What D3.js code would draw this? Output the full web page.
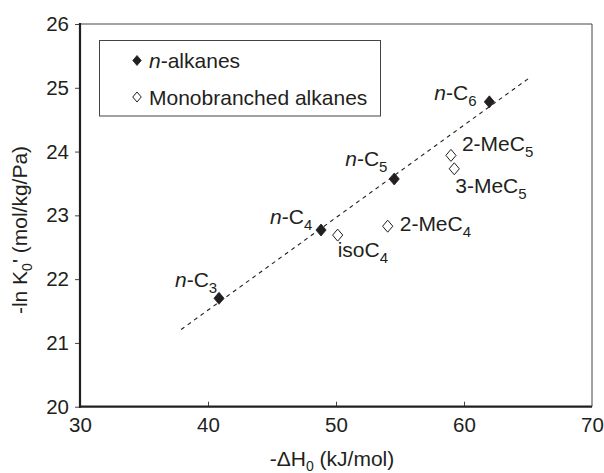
<!DOCTYPE html>
<html><head><meta charset="utf-8">
<script src="https://cdn.jsdelivr.net/npm/d3@7"></script>
<style>
html,body{margin:0;padding:0;background:#fff;}
text{font-family:"Liberation Sans",Arial,sans-serif;fill:#231f20;}
</style></head>
<body><svg id="c" width="604" height="473"></svg>
<script>
// Data
const nAlkaneNames = ["n-C3","n-C4","n-C5","n-C6"];
const nAlkaneDH = [40.86, 48.83, 54.55, 61.98];
const nAlkaneLnK = [21.70, 22.77, 23.57, 24.78];
const branchedNames = ["isoC4","2-MeC4","2-MeC5","3-MeC5"];
const branchedDH = [50.13, 54.04, 58.98, 59.24];
const branchedLnK = [22.69, 22.83, 23.94, 23.73];
const fitLineX = [37.9, 65.0];
const fitLineY = [21.21, 25.14];
const xTicks = [30, 40, 50, 60, 70];
const yTicks = [20, 21, 22, 23, 24, 25, 26];

// label placement (style)
const labelOffsets = {
  "n-C3":[-44,-11], "n-C4":[-51,-6], "n-C5":[-49,-13], "n-C6":[-55,-2],
  "isoC4":[0,22], "2-MeC4":[12,5], "2-MeC5":[11,-4], "3-MeC5":[1,24]
};

const svg = d3.select("#c");
const L=80, R=592, T=24, B=406.7;
const x = d3.scaleLinear().domain([30,70]).range([L,R]);
const y = d3.scaleLinear().domain([20,26]).range([B,T]);

// frame top/right
svg.append("line").attr("x1",L).attr("x2",R).attr("y1",T).attr("y2",T).attr("stroke","#444").attr("stroke-width",1);
svg.append("line").attr("x1",R).attr("x2",R).attr("y1",T).attr("y2",B).attr("stroke","#444").attr("stroke-width",1);

// y axis
const yAxis = svg.append("g").attr("transform",`translate(${L},0)`)
  .call(d3.axisLeft(y).tickValues(yTicks).tickSize(5).tickPadding(6).tickFormat(d3.format("d")));
yAxis.select(".domain").remove();
yAxis.selectAll(".tick line").attr("stroke","#444");
yAxis.selectAll("text").attr("font-size",20.5).style("fill","#231f20");
// x axis (ticks inward)
const xAxis = svg.append("g").attr("transform",`translate(0,${B})`)
  .call(d3.axisBottom(x).tickValues(xTicks).tickSizeInner(-5).tickSizeOuter(0).tickPadding(11).tickFormat(d3.format("d")));
xAxis.select(".domain").remove();
xAxis.selectAll(".tick line").attr("stroke","#444");
xAxis.selectAll(".tick").filter(d=>d===30||d===70).select("line").remove();
xAxis.selectAll("text").attr("font-size",20.5).style("fill","#231f20");

// thick left & bottom
svg.append("line").attr("x1",L).attr("x2",L).attr("y1",T-1).attr("y2",B+1).attr("stroke","#231f20").attr("stroke-width",2.2);
svg.append("line").attr("x1",L-1).attr("x2",R).attr("y1",B).attr("y2",B).attr("stroke","#231f20").attr("stroke-width",2.2);

// fit line
svg.append("line")
  .attr("x1",x(fitLineX[0])).attr("y1",y(fitLineY[0]))
  .attr("x2",x(fitLineX[1])).attr("y2",y(fitLineY[1]))
  .attr("stroke","#231f20").attr("stroke-width",1.1).attr("stroke-dasharray","4,4");

function diamond(g, cx, cy, r, filled){
  g.append("path")
   .attr("d",`M${cx},${cy-r}L${cx+r*0.85},${cy}L${cx},${cy+r}L${cx-r*0.85},${cy}Z`)
   .attr("fill",filled?"#231f20":"#fff").attr("stroke","#231f20").attr("stroke-width",filled?0.8:1);
}
function label(g, name, px, py){
  const off = labelOffsets[name];
  const t = g.append("text").attr("x",px+off[0]).attr("y",py+off[1]).attr("font-size",21);
  let base = name, sub = "";
  const m = name.match(/^(.*C)(\d)$/);
  if(m){ base=m[1]; sub=m[2]; }
  if(base.startsWith("n-")){
    t.append("tspan").attr("font-style","italic").text("n");
    t.append("tspan").text(base.slice(1));
  } else t.append("tspan").text(base);
  if(sub) t.append("tspan").attr("font-size",15).attr("dy",6).text(sub);
}

const g = svg.append("g");
nAlkaneNames.forEach((n,i)=>{
  diamond(g, x(nAlkaneDH[i]), y(nAlkaneLnK[i]), 6, true);
  label(g, n, x(nAlkaneDH[i]), y(nAlkaneLnK[i]));
});
branchedNames.forEach((n,i)=>{
  diamond(g, x(branchedDH[i]), y(branchedLnK[i]), 6, false);
  label(g, n, x(branchedDH[i]), y(branchedLnK[i]));
});

// legend
const lg = svg.append("g");
lg.append("rect").attr("x",99.5).attr("y",40.5).attr("width",281).attr("height",75.5)
  .attr("fill","#fff").attr("stroke","#444").attr("stroke-width",1);
diamond(lg, 137, 60.5, 5, true);
const t1 = lg.append("text").attr("x",149).attr("y",68).attr("font-size",21);
t1.append("tspan").attr("font-style","italic").text("n");
t1.append("tspan").text("-alkanes");
diamond(lg, 137, 97, 5, false);
lg.append("text").attr("x",149).attr("y",104.5).attr("font-size",21).text("Monobranched alkanes");

// axis titles
const xt = svg.append("text").attr("x",332).attr("y",466).attr("text-anchor","middle").attr("font-size",21);
xt.append("tspan").text("-ΔH");
xt.append("tspan").attr("font-size",14).attr("dy",5).text("0");
xt.append("tspan").attr("dy",-5).text(" (kJ/mol)");

const yt = svg.append("text").attr("transform","translate(27,230) rotate(-90)").attr("text-anchor","middle").attr("font-size",21);
yt.append("tspan").text("-ln K");
yt.append("tspan").attr("font-size",14).attr("dy",5).text("0");
yt.append("tspan").attr("dy",-5).text("' (mol/kg/Pa)");
</script></body></html>
